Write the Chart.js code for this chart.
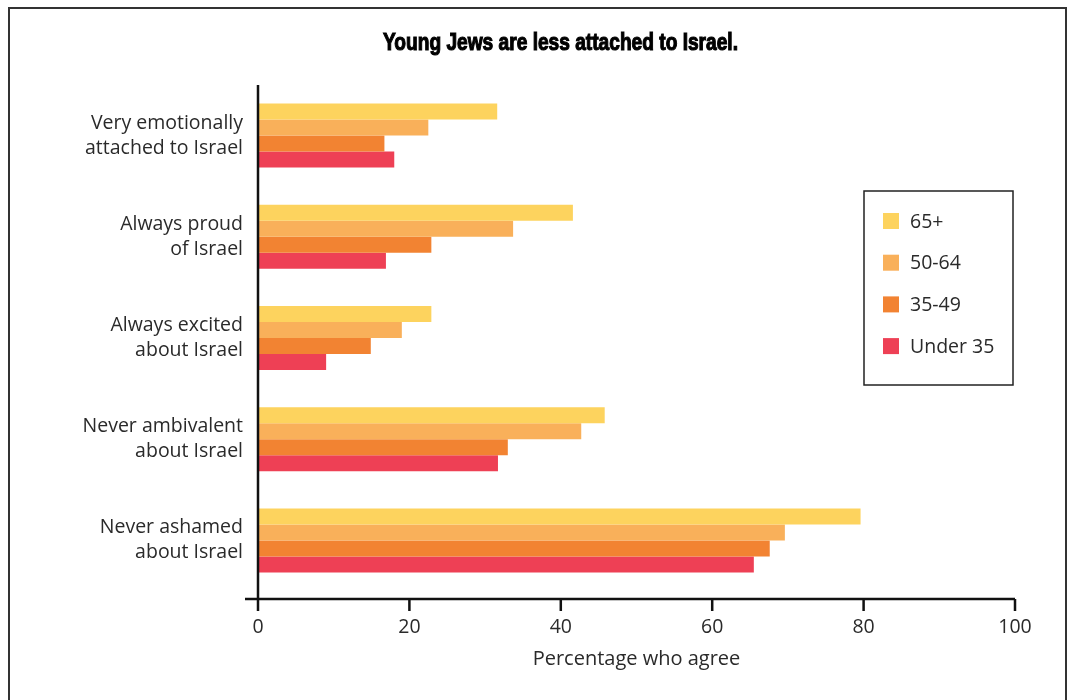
<!DOCTYPE html>
<html>
<head>
<meta charset="utf-8">
<title>Young Jews are less attached to Israel</title>
<script src="https://cdn.jsdelivr.net/npm/chart.js@4.4.1/dist/chart.umd.min.js"></script>
<style>
    html, body { margin: 0; padding: 0; background: #fff; }
    #wrap { width: 1068px; height: 700px; }
</style>
</head>
<body>
<div id="wrap"><canvas id="myChart" width="1068" height="700"></canvas></div>
<script>
// data
let questions = [
    ["Very emotionally", "attached to Israel"],
    ["Always proud", "of Israel"],
    ["Always excited", "about Israel"],
    ["Never ambivalent", "about Israel"],
    ["Never ashamed", "about Israel"]
];
let ageGroups = ["65+", "50-64", "35-49", "Under 35"];
let over65 = [31.6, 41.6, 22.9, 45.8, 79.6];
let age50to64 = [22.5, 33.7, 19.0, 42.7, 69.6];
let age35to49 = [16.7, 22.9, 14.9, 33.0, 67.6];
let under35 = [18.0, 16.9, 9.0, 31.7, 65.5];
let barColors = ["#FDD35E", "#F9B05A", "#F28332", "#EE4055"];
let xTicks = [0, 20, 40, 60, 80, 100];
let chartTitle = "Young Jews are less attached to Israel.";
let xTitle = "Percentage who agree";

let seriesValues = [over65, age50to64, age35to49, under35];
let textColor = "#2a2a2a";
let bodyFont = "'Open Sans', 'Liberation Sans', sans-serif";

// outer frame + white background
const framePlugin = {
    id: "frame",
    beforeDraw(chart) {
        let ctx = chart.ctx;
        ctx.save();
        ctx.fillStyle = "#fff";
        ctx.fillRect(0, 0, chart.width, chart.height);
        ctx.strokeStyle = "#333";
        ctx.lineWidth = 2;
        ctx.strokeRect(9, 8, 1057, 720);
        ctx.restore();
    }
};

// heavy condensed headline, squeezed horizontally
const headlinePlugin = {
    id: "headline",
    afterDraw(chart) {
        let ctx = chart.ctx;
        ctx.save();
        ctx.font = "bold 23px 'Liberation Sans', Arial, sans-serif";
        let w = ctx.measureText(chartTitle).width;
        let squeeze = 355 / w;
        ctx.translate(560.5, 50);
        ctx.scale(squeeze, 1);
        ctx.textAlign = "center";
        ctx.textBaseline = "alphabetic";
        ctx.fillStyle = "#000";
        ctx.strokeStyle = "#000";
        ctx.lineWidth = 1.1;
        ctx.fillText(chartTitle, 0, 0);
        ctx.strokeText(chartTitle, 0, 0);
        ctx.restore();
    }
};

// axis lines with tick marks hanging below
const axesPlugin = {
    id: "axes",
    afterDatasetsDraw(chart) {
        let { ctx, chartArea, scales } = chart;
        let x = scales.x;
        let axisY = chartArea.bottom + 8;
        let zero = x.getPixelForValue(0);
        ctx.save();
        ctx.strokeStyle = "#111";
        ctx.lineWidth = 2.5;
        ctx.beginPath();
        ctx.moveTo(zero, chartArea.top);
        ctx.lineTo(zero, axisY);
        ctx.moveTo(zero - 13, axisY);
        ctx.lineTo(x.getPixelForValue(100), axisY);
        xTicks.forEach(v => {
            let px = x.getPixelForValue(v);
            ctx.moveTo(px, axisY);
            ctx.lineTo(px, axisY + 12);
        });
        ctx.stroke();
        ctx.restore();
    }
};

// boxed legend on the right
const boxLegendPlugin = {
    id: "boxLegend",
    afterDraw(chart) {
        let ctx = chart.ctx;
        let left = 864, top = 191, w = 149, h = 194;
        ctx.save();
        ctx.strokeStyle = "#222";
        ctx.lineWidth = 1.5;
        ctx.strokeRect(left, top, w, h);
        ctx.font = "19.5px " + bodyFont;
        ctx.textBaseline = "middle";
        ctx.textAlign = "left";
        chart.data.datasets.forEach((ds, i) => {
            let cy = top + 30 + i * 41.7;
            ctx.fillStyle = ds.backgroundColor;
            ctx.fillRect(left + 19, cy - 8, 16, 16);
            ctx.fillStyle = textColor;
            ctx.fillText(ds.label, left + 46, cy + 1);
        });
        ctx.restore();
    }
};

let ctx = document.getElementById("myChart").getContext("2d");
let chart = new Chart(ctx, {
    type: "bar",
    data: {
        labels: questions,
        datasets: ageGroups.map((g, i) => ({
            label: g,
            data: seriesValues[i],
            backgroundColor: barColors[i],
            borderWidth: 0,
            barPercentage: 1,
            categoryPercentage: 0.632
        }))
    },
    options: {
        indexAxis: "y",
        responsive: false,
        animation: false,
        devicePixelRatio: 1,
        layout: { padding: { left: 0, right: 53, top: 85, bottom: 0 } },
        plugins: {
            legend: { display: false },
            tooltip: { enabled: false },
            title: { display: false }
        },
        scales: {
            x: {
                min: 0,
                max: 100,
                afterBuildTicks: scale => { scale.ticks = xTicks.map(v => ({ value: v })); },
                afterFit: scale => { scale.height = 109; },
                grid: { display: false, drawTicks: false },
                border: { display: false },
                ticks: { color: textColor, font: { family: bodyFont, size: 19.5 }, padding: 25 },
                title: {
                    display: true,
                    text: xTitle,
                    color: textColor,
                    font: { family: bodyFont, size: 20 },
                    padding: { top: 0, bottom: 29 }
                }
            },
            y: {
                afterFit: scale => { scale.width = 258; },
                grid: { display: false, drawTicks: false },
                border: { display: false },
                ticks: { color: textColor, font: { family: bodyFont, size: 19.5, lineHeight: 1.28 }, padding: 15 }
            }
        }
    },
    plugins: [framePlugin, axesPlugin, boxLegendPlugin, headlinePlugin]
});
</script>
</body>
</html>
